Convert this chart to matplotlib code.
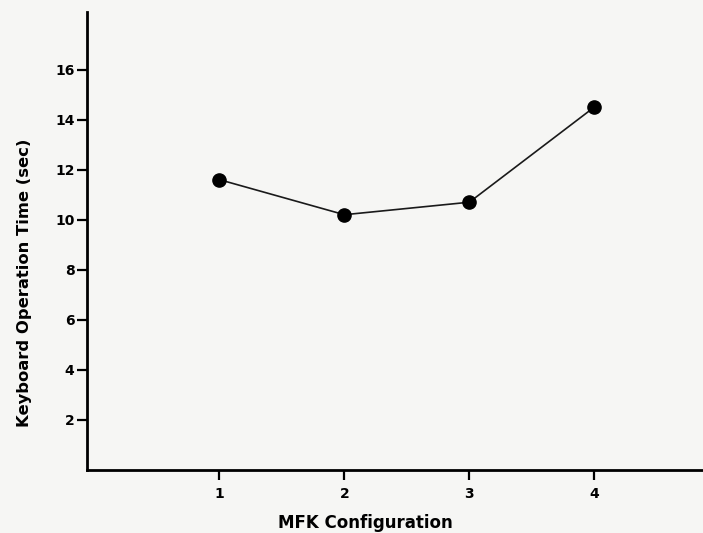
import matplotlib
matplotlib.use('Agg')
from matplotlib import pyplot as plt

# data
configs = [1, 2, 3, 4]
op_time = [11.6, 10.2, 10.7, 14.5]
yticks = [2, 4, 6, 8, 10, 12, 14, 16]

plt.rcParams['font.family'] = ['DejaVu Sans']
plt.rcParams['font.weight'] = 'bold'

fig = plt.figure(figsize=(7.03, 5.33), dpi=100, facecolor='#f6f6f4')
ax = fig.add_axes([0.1238, 0.1182, 0.8762, 0.8593])
ax.set_facecolor('#f6f6f4')

ax.plot(configs, op_time, color='#1a1a1a', lw=1.2, marker='o', ms=9.5,
        mfc='black', mec='black')

ax.set_xlim(-0.06, 4.87)
ax.set_ylim(0, 18.3)
ax.set_xticks(configs)
ax.set_yticks(yticks)

for s in ['top', 'right']:
    ax.spines[s].set_visible(False)
for s in ['left', 'bottom']:
    ax.spines[s].set_linewidth(2.0)
    ax.spines[s].set_color('black')

ax.tick_params(axis='both', direction='out', length=7, width=1.6,
               labelsize=10, pad=2, colors='black')
for lab in ax.get_xticklabels() + ax.get_yticklabels():
    lab.set_fontweight('bold')
ax.tick_params(axis='x', pad=5)

fig.text(365 / 703, 1 - 523 / 533, 'MFK Configuration', ha='center',
         va='center', fontsize=12, fontweight='bold')
fig.text(25 / 703, 1 - 283 / 533, 'Keyboard Operation Time (sec)',
         ha='center', va='center', rotation=90, fontsize=11.8,
         fontweight='bold')

fig.savefig('out.png', dpi=100, facecolor=fig.get_facecolor())
